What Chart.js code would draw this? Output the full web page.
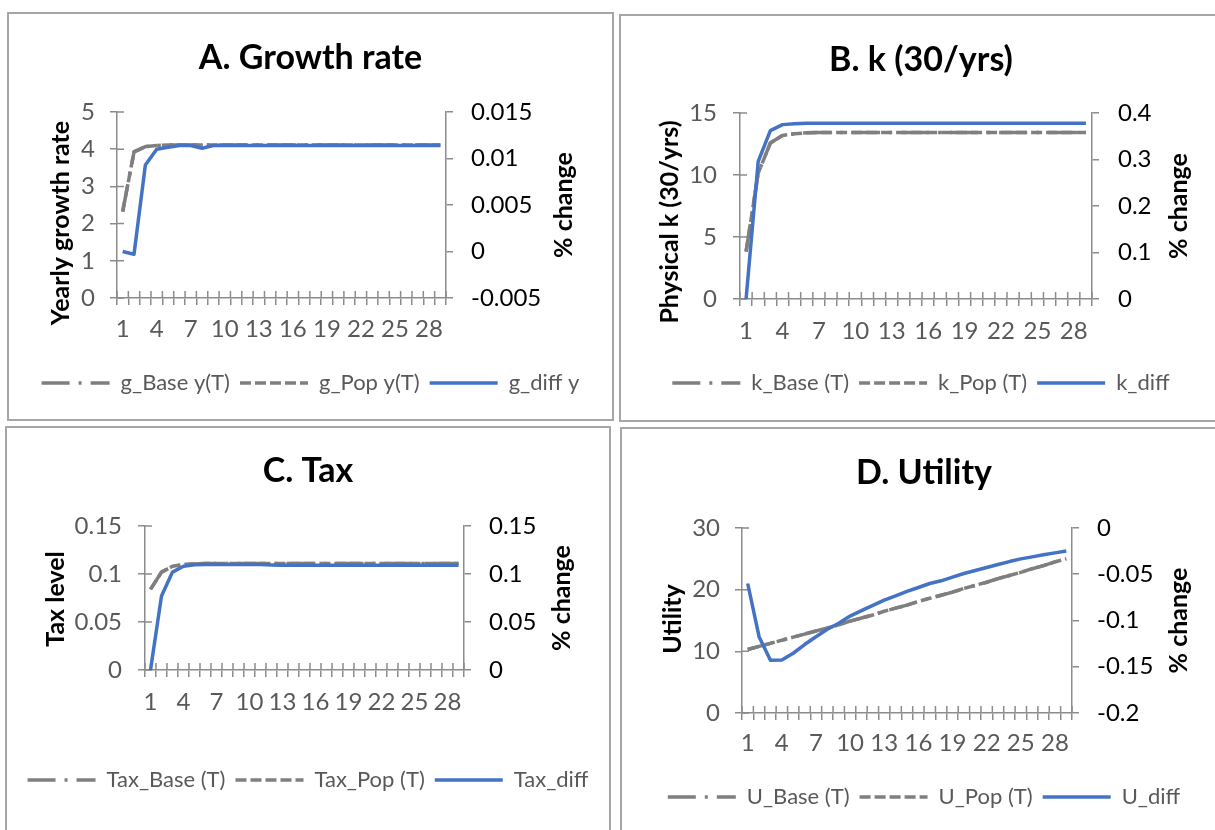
<!DOCTYPE html>
<html>
<head>
<meta charset="utf-8">
<script src="https://cdn.jsdelivr.net/npm/chart.js@4.4.1/dist/chart.umd.min.js"></script>
<style>
  html, body { margin: 0; padding: 0; background: #fff; width: 1215px; height: 830px; overflow: hidden; position: relative; }
  .panel { position: absolute; border: 2px solid #a6a6a6; background: #fff; overflow: hidden; }
  .panel canvas { display: block; }
</style>
</head>
<body>
<div class="panel" style="left:7px;top:12px;width:603px;height:405px"><canvas id="cA" width="603" height="405"></canvas></div>
<div class="panel" style="left:619px;top:14px;width:600px;height:404px"><canvas id="cB" width="600" height="404"></canvas></div>
<div class="panel" style="left:5px;top:426px;width:602px;height:410px"><canvas id="cC" width="602" height="410"></canvas></div>
<div class="panel" style="left:620px;top:427px;width:604px;height:410px"><canvas id="cD" width="604" height="410"></canvas></div>
<script>
// periods on the x axis
const periods = ["1","2","3","4","5","6","7","8","9","10","11","12","13","14","15","16","17","18","19","20","21","22","23","24","25","26","27","28","29"];

// A. growth rate
const gBase = [2.32, 3.93, 4.07, 4.10, 4.11, 4.11, 4.11, 4.11, 4.11, 4.11, 4.11, 4.11, 4.11, 4.11, 4.11, 4.11, 4.11, 4.11, 4.11, 4.11, 4.11, 4.11, 4.11, 4.11, 4.11, 4.11, 4.11, 4.11, 4.11];
const gPop = [2.32, 3.93, 4.07, 4.10, 4.11, 4.11, 4.11, 4.11, 4.11, 4.11, 4.11, 4.11, 4.11, 4.11, 4.11, 4.11, 4.11, 4.11, 4.11, 4.11, 4.11, 4.11, 4.11, 4.11, 4.11, 4.11, 4.11, 4.11, 4.11];
const gDiff = [0, -0.0003, 0.0093, 0.0110, 0.0112, 0.0114, 0.0114, 0.0111, 0.0114, 0.0114, 0.0114, 0.0114, 0.0114, 0.0114, 0.0114, 0.0114, 0.0114, 0.0114, 0.0114, 0.0114, 0.0114, 0.0114, 0.0114, 0.0114, 0.0114, 0.0114, 0.0114, 0.0114, 0.0114];
const gLeftTicks = [0, 1, 2, 3, 4, 5];
const gRightTicks = [-0.005, 0, 0.005, 0.01, 0.015];

// B. physical capital
const kBase = [3.82, 10.15, 12.58, 13.19, 13.33, 13.40, 13.43, 13.43, 13.43, 13.43, 13.43, 13.43, 13.43, 13.43, 13.43, 13.43, 13.43, 13.43, 13.43, 13.43, 13.43, 13.43, 13.43, 13.43, 13.43, 13.43, 13.43, 13.43, 13.43];
const kPop = [3.82, 10.15, 12.58, 13.19, 13.33, 13.40, 13.43, 13.43, 13.43, 13.43, 13.43, 13.43, 13.43, 13.43, 13.43, 13.43, 13.43, 13.43, 13.43, 13.43, 13.43, 13.43, 13.43, 13.43, 13.43, 13.43, 13.43, 13.43, 13.43];
const kDiff = [0, 0.296, 0.362, 0.375, 0.377, 0.378, 0.378, 0.378, 0.378, 0.378, 0.378, 0.378, 0.378, 0.378, 0.378, 0.378, 0.378, 0.378, 0.378, 0.378, 0.378, 0.378, 0.378, 0.378, 0.378, 0.378, 0.378, 0.378, 0.378];
const kLeftTicks = [0, 5, 10, 15];
const kRightTicks = [0, 0.1, 0.2, 0.3, 0.4];

// C. tax
const taxBase = [0.084, 0.102, 0.108, 0.110, 0.1105, 0.111, 0.111, 0.111, 0.111, 0.111, 0.111, 0.111, 0.111, 0.111, 0.111, 0.111, 0.111, 0.111, 0.111, 0.111, 0.111, 0.111, 0.111, 0.111, 0.111, 0.111, 0.111, 0.111, 0.111];
const taxPop = [0.084, 0.102, 0.108, 0.110, 0.1105, 0.111, 0.111, 0.111, 0.111, 0.111, 0.111, 0.111, 0.111, 0.111, 0.111, 0.111, 0.111, 0.111, 0.111, 0.111, 0.111, 0.111, 0.111, 0.111, 0.111, 0.111, 0.111, 0.111, 0.111];
const taxDiff = [0, 0.077, 0.102, 0.108, 0.1097, 0.110, 0.110, 0.110, 0.110, 0.110, 0.110, 0.1095, 0.109, 0.109, 0.109, 0.109, 0.109, 0.109, 0.109, 0.109, 0.109, 0.109, 0.109, 0.109, 0.109, 0.109, 0.109, 0.109, 0.109];
const taxLeftTicks = [0, 0.05, 0.1, 0.15];
const taxRightTicks = [0, 0.05, 0.1, 0.15];

// D. utility
const uBase = [10.3, 10.8, 11.3, 11.8, 12.3, 12.8, 13.3, 13.8, 14.3, 14.9, 15.4, 15.9, 16.5, 17.0, 17.5, 18.1, 18.6, 19.1, 19.6, 20.2, 20.7, 21.2, 21.8, 22.3, 22.8, 23.4, 23.9, 24.5, 25.0];
const uPop = [10.3, 10.8, 11.3, 11.8, 12.3, 12.8, 13.3, 13.8, 14.3, 14.9, 15.4, 15.9, 16.5, 17.0, 17.5, 18.1, 18.6, 19.1, 19.6, 20.2, 20.7, 21.2, 21.8, 22.3, 22.8, 23.4, 23.9, 24.5, 25.0];
const uDiff = [-0.060, -0.1175, -0.143, -0.1426, -0.1354, -0.126, -0.1175, -0.1095, -0.103, -0.0952, -0.0894, -0.0837, -0.078, -0.0733, -0.0686, -0.0643, -0.060, -0.0571, -0.0531, -0.0492, -0.046, -0.0427, -0.0395, -0.0363, -0.0334, -0.0312, -0.029, -0.0269, -0.0248];
const uLeftTicks = [0, 10, 20, 30];
const uRightTicks = [-0.2, -0.15, -0.1, -0.05, 0];

const FONT = "Lato, 'Open Sans', sans-serif";
const GRAY = "#7f7f7f";
const BLUE = "#4472c4";
const AXIS = "#8c8c8c";
const TICK_LEN = 7;
const TITLE_SIZE = 34, TICK_SIZE = 24, LEGEND_SIZE = 22, AXIS_TITLE_SIZE = 25, LEGEND_PAD = 10;

// inner half of the crossing tick marks (Chart.js only draws the outer half)
const crossTicks = {
  id: "crossTicks",
  beforeDatasetsDraw(chart) {
    const { ctx, chartArea, scales } = chart;
    ctx.save();
    ctx.strokeStyle = AXIS;
    ctx.lineWidth = 1.5;
    ctx.beginPath();
    for (let i = 0; i <= scales.x.ticks.length; i++) {
      const px = scales.x.getPixelForValue(i - 0.5);
      ctx.moveTo(px, chartArea.bottom);
      ctx.lineTo(px, chartArea.bottom - TICK_LEN);
    }
    scales.y.ticks.forEach(t => {
      const py = scales.y.getPixelForValue(t.value);
      ctx.moveTo(chartArea.left, py);
      ctx.lineTo(chartArea.left + TICK_LEN, py);
    });
    ctx.stroke();
    ctx.restore();
  }
};

// both axis titles read bottom-to-top, as in Excel
const axisTitles = {
  id: "axisTitles",
  afterDraw(chart, args, opts) {
    const ctx = chart.ctx;
    ctx.save();
    ctx.font = "bold " + AXIS_TITLE_SIZE + "px " + FONT;
    ctx.fillStyle = "#000";
    ctx.textAlign = "center";
    ctx.textBaseline = "middle";
    (opts.items || []).forEach(t => {
      ctx.save();
      ctx.translate(t.x, t.y);
      ctx.rotate(-Math.PI / 2);
      ctx.fillText(t.text, 0, 0);
      ctx.restore();
    });
    ctx.restore();
  }
};

function valueAxis(position, ticks, color, pad, width) {
  return {
    type: "linear",
    position: position,
    min: ticks[0],
    max: ticks[ticks.length - 1],
    afterBuildTicks: s => { s.ticks = ticks.map(v => ({ value: v })); },
    afterFit: s => { s.width = width; },
    border: { display: true, color: AXIS, width: 1.5 },
    grid: { drawOnChartArea: false, drawTicks: true, tickLength: TICK_LEN, color: AXIS, lineWidth: 1.5 },
    ticks: { color: color, padding: pad, font: { family: FONT, size: TICK_SIZE }, callback: v => String(v) }
  };
}

// legend samples keep each dataset's dash pattern
function legendLabels(chart) {
  return Chart.defaults.plugins.legend.labels.generateLabels(chart).map(item => {
    const ds = chart.data.datasets[item.datasetIndex];
    item.lineDash = ds.borderDash || [];
    item.lineWidth = ds.borderWidth;
    item.strokeStyle = ds.borderColor;
    return item;
  });
}

function renderPanel(id, g, title, names, series, leftTicks, rightTicks, leftTitle) {
  const titleLH = TITLE_SIZE * 1.2;
  const legendH = LEGEND_SIZE + LEGEND_PAD + 10;
  const legendTop = g.legendY - LEGEND_PAD - LEGEND_SIZE / 2;
  const xH = legendTop - g.B;
  const xPad = g.xLabelY - g.B - TICK_LEN - TICK_SIZE * 0.6;
  new Chart(document.getElementById(id), {
    type: "line",
    data: {
      labels: periods,
      datasets: [
        { label: names[0], data: series[0], yAxisID: "y", borderColor: GRAY, borderWidth: 3.5, borderDash: [28, 9, 3, 9], order: 2 },
        { label: names[1], data: series[1], yAxisID: "y", borderColor: GRAY, borderWidth: 3.5, borderDash: [11, 4], order: 1 },
        { label: names[2], data: series[2], yAxisID: "y1", borderColor: BLUE, borderWidth: 3.5, order: 0 }
      ]
    },
    options: {
      responsive: false,
      animation: false,
      layout: { padding: { left: 0, right: 0, top: 0, bottom: g.H - legendTop - legendH } },
      elements: { point: { radius: 0 }, line: { tension: 0, borderJoinStyle: "round" } },
      scales: {
        x: {
          type: "category",
          offset: true,
          afterFit: s => { s.height = xH; },
          border: { display: true, color: AXIS, width: 1.5 },
          grid: { offset: true, drawOnChartArea: false, drawTicks: true, tickLength: TICK_LEN, color: AXIS, lineWidth: 1.5 },
          ticks: {
            autoSkip: false, maxRotation: 0, color: "#595959", padding: xPad,
            font: { family: FONT, size: TICK_SIZE },
            callback: (v, i) => (i % 3 === 0 ? periods[i] : "")
          }
        },
        y: valueAxis("left", leftTicks, "#595959", g.lPad, g.L),
        y1: valueAxis("right", rightTicks, "#000", g.rPad, g.W - g.R)
      },
      plugins: {
        title: {
          display: true, text: title, color: "#000",
          font: { family: FONT, size: TITLE_SIZE, weight: "bold" },
          padding: { top: g.titleY - titleLH / 2, bottom: g.T - g.titleY - titleLH / 2 }
        },
        legend: {
          position: "bottom",
          labels: {
            usePointStyle: true, pointStyle: "line", pointStyleWidth: 68, boxHeight: LEGEND_SIZE,
            padding: LEGEND_PAD, color: "#595959", font: { family: FONT, size: LEGEND_SIZE },
            generateLabels: legendLabels,
            sort: (a, b) => a.datasetIndex - b.datasetIndex
          }
        },
        tooltip: { enabled: false },
        axisTitles: {
          items: [
            { text: leftTitle, x: g.ltX, y: g.ltY },
            { text: "% change", x: g.rtX, y: (g.T + g.B) / 2 }
          ]
        }
      }
    },
    plugins: [crossTicks, axisTitles]
  });
}

renderPanel("cA",
  { W: 603, H: 405, L: 108, R: 437, T: 98, B: 284, titleY: 44, legendY: 369, xLabelY: 315, lPad: 15, rPad: 18, ltX: 52, ltY: 209, rtX: 555 },
  "A. Growth rate", ["g_Base y(T)", "g_Pop y(T)", "g_diff y"], [gBase, gPop, gDiff], gLeftTicks, gRightTicks, "Yearly growth rate");

renderPanel("cB",
  { W: 600, H: 404, L: 119, R: 471, T: 97, B: 283, titleY: 44, legendY: 367, xLabelY: 315, lPad: 16, rPad: 19, ltX: 49, ltY: 206, rtX: 558 },
  "B. k (30/yrs)", ["k_Base (T)", "k_Pop (T)", "k_diff"], [kBase, kPop, kDiff], kLeftTicks, kRightTicks, "Physical k (30/yrs)");

renderPanel("cC",
  { W: 602, H: 410, L: 138, R: 457, T: 98, B: 242, titleY: 43, legendY: 352, xLabelY: 274, lPad: 16, rPad: 18, ltX: 49, ltY: 171, rtX: 555 },
  "C. Tax", ["Tax_Base (T)", "Tax_Pop (T)", "Tax_diff"], [taxBase, taxPop, taxDiff], taxLeftTicks, taxRightTicks, "Tax level");

renderPanel("cD",
  { W: 604, H: 410, L: 120, R: 450, T: 99, B: 284, titleY: 44, legendY: 368, xLabelY: 314, lPad: 15, rPad: 18, ltX: 51, ltY: 190, rtX: 557 },
  "D. Utility", ["U_Base (T)", "U_Pop (T)", "U_diff"], [uBase, uPop, uDiff], uLeftTicks, uRightTicks, "Utility");
</script>
</body>
</html>
